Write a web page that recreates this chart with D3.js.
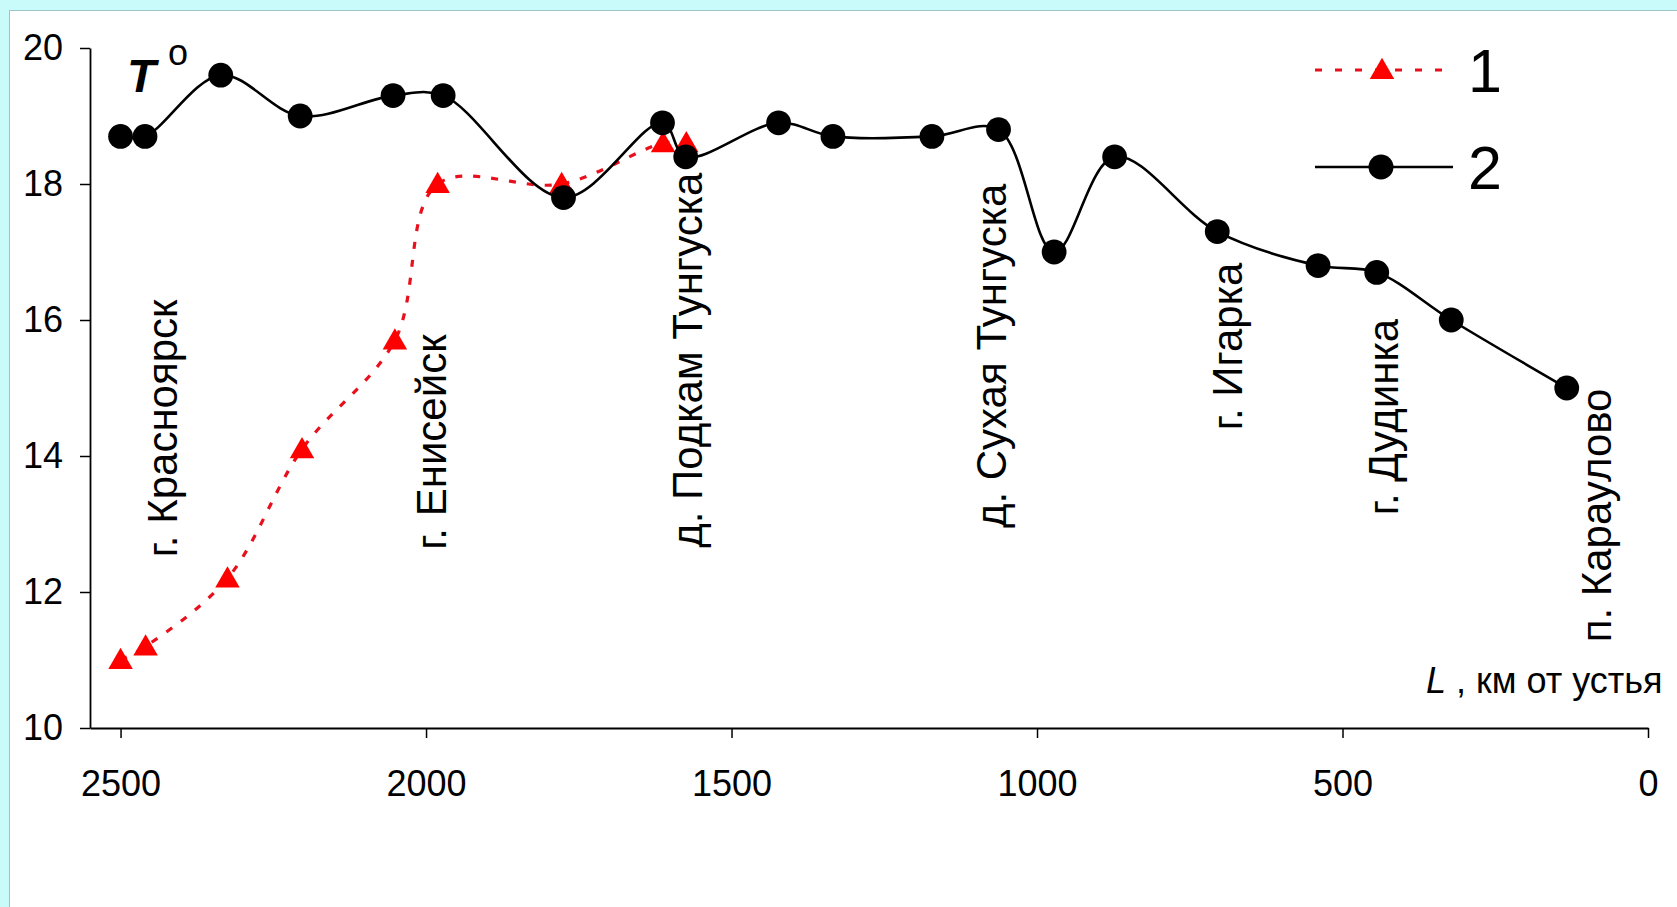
<!DOCTYPE html>
<html>
<head>
<meta charset="utf-8">
<script src="https://cdn.jsdelivr.net/npm/d3@7"></script>
<style>
  html, body { margin: 0; padding: 0; background: #c9fbfb; }
  svg { display: block; }
  text { font-family: "Liberation Sans", Arial, sans-serif; fill: #000; }
</style>
</head>
<body>
<svg id="chart" width="1677" height="907"></svg>
<script>
// Distance from the river mouth, km, and water temperature, °C
const km1   = [2500, 2459, 2325, 2203, 2051, 1981, 1778, 1612, 1574];
const temp1 = [11.0, 11.2, 12.2, 14.1, 15.7, 18.0, 18.0, 18.6, 18.6];

const km2   = [2500, 2460, 2336, 2206, 2054, 1972, 1775, 1613, 1575, 1423,
               1334, 1172, 1063, 972, 873, 705, 540, 444, 322, 133];
const temp2 = [18.7, 18.7, 19.6, 19.0, 19.3, 19.3, 17.8, 18.9, 18.4, 18.9,
               18.7, 18.7, 18.8, 17.0, 18.4, 17.3, 16.8, 16.7, 16.0, 15.0];

const xTicks = [2500, 2000, 1500, 1000, 500, 0];
const yTicks = [10, 12, 14, 16, 18, 20];

const seriesNames = ["1", "2"];

// Settlements along the river (label start in km / °C)
const places  = ["г. Красноярск", "г. Енисейск", "д. Подкам Тунгуска", "д. Сухая Тунгуска",
                 "г. Игарка", "г. Дудинка", "п. Караулово"];
const placeKm = [2408, 1967, 1548, 1051, 664, 409, 61];
const placeT  = [12.51, 12.62, 12.65, 12.94, 14.38, 13.13, 11.26];

const svg = d3.select("#chart");

// white panel
svg.append("rect")
  .attr("x", 9.5).attr("y", 10.5)
  .attr("width", 1700).attr("height", 1000)
  .attr("fill", "#fff").attr("stroke", "#9cc6c6").attr("stroke-width", 1);

const x = d3.scaleLinear().domain([2550, 0]).range([90, 1648]);
const y = d3.scaleLinear().domain([10, 20]).range([728, 48]);

// axes
const xAxis = svg.append("g")
  .attr("transform", `translate(0,${y(10)})`)
  .call(d3.axisBottom(x).tickValues(xTicks).tickFormat(d3.format("d"))
        .tickSize(10).tickSizeOuter(0).tickPadding(32));
const yAxis = svg.append("g")
  .attr("transform", `translate(${x(2550)},0)`)
  .call(d3.axisLeft(y).tickValues(yTicks).tickFormat(d3.format("d"))
        .tickSize(10).tickSizeOuter(0).tickPadding(17));

[xAxis, yAxis].forEach(g => {
  g.selectAll("path.domain").attr("stroke", "#000").attr("stroke-width", 1.8);
  g.selectAll(".tick line").attr("stroke", "#000").attr("stroke-width", 1.5);
  g.selectAll(".tick text")
    .attr("font-size", 36)
    .attr("font-family", "'Liberation Sans', Arial, sans-serif")
    .attr("fill", "#000");
});

const curve = d3.curveCatmullRom.alpha(0.5);

// series 1: red dotted line with triangles
const d1 = km1.map((k, i) => ({ k, t: temp1[i] }));
const line1 = d3.line().x(d => x(d.k)).y(d => y(d.t)).curve(curve);
svg.append("path")
  .datum(d1)
  .attr("d", line1)
  .attr("fill", "none")
  .attr("stroke", "#e8101c")
  .attr("stroke-width", 3.2)
  .attr("stroke-dasharray", "7,11");

const tri = d3.symbol().type(d3.symbolTriangle).size(260);
svg.append("g").selectAll("path")
  .data(d1)
  .join("path")
  .attr("d", tri)
  .attr("transform", d => `translate(${x(d.k)},${y(d.t) + 2})`)
  .attr("fill", "#ff0000");

// series 2: black solid line with circles
const d2 = km2.map((k, i) => ({ k, t: temp2[i] }));
const line2 = d3.line().x(d => x(d.k)).y(d => y(d.t)).curve(curve);
svg.append("path")
  .datum(d2)
  .attr("d", line2)
  .attr("fill", "none")
  .attr("stroke", "#000")
  .attr("stroke-width", 2.6);

svg.append("g").selectAll("circle")
  .data(d2)
  .join("circle")
  .attr("cx", d => x(d.k))
  .attr("cy", d => y(d.t))
  .attr("r", 12.4)
  .attr("fill", "#000");

// settlement labels, written bottom to top
svg.append("g").selectAll("text")
  .data(places)
  .join("text")
  .attr("transform", (d, i) => `translate(${x(placeKm[i])},${y(placeT[i])}) rotate(-90)`)
  .attr("font-size", 42)
  .text(d => d);

// axis titles
const tTitle = svg.append("text")
  .attr("x", 127).attr("y", 92);
tTitle.append("tspan")
  .attr("font-size", 47).attr("font-weight", "bold").attr("font-style", "italic")
  .text("T");
tTitle.append("tspan")
  .attr("x", 168).attr("y", 65)
  .attr("font-size", 36)
  .text("o");

const lTitle = svg.append("text")
  .attr("x", 1426).attr("y", 693)
  .attr("font-size", 36);
lTitle.append("tspan").attr("font-style", "italic").text("L");
lTitle.append("tspan").text(" , км от устья");

// legend
const legend = svg.append("g");
const legendY = [70, 167];
legend.append("line")
  .attr("x1", 1315).attr("x2", 1444)
  .attr("y1", legendY[0]).attr("y2", legendY[0])
  .attr("stroke", "#e8101c").attr("stroke-width", 3.2)
  .attr("stroke-dasharray", "7,13");
legend.append("path")
  .attr("d", tri)
  .attr("transform", `translate(1382,${legendY[0] + 2})`)
  .attr("fill", "#ff0000");
legend.append("line")
  .attr("x1", 1315).attr("x2", 1453)
  .attr("y1", legendY[1]).attr("y2", legendY[1])
  .attr("stroke", "#000").attr("stroke-width", 2.6);
legend.append("circle")
  .attr("cx", 1381).attr("cy", legendY[1]).attr("r", 12.5)
  .attr("fill", "#000");
legend.selectAll("text.lab")
  .data(seriesNames)
  .join("text")
  .attr("class", "lab")
  .attr("x", 1468)
  .attr("y", (d, i) => legendY[i] + 22)
  .attr("font-size", 61)
  .text(d => d);
</script>
</body>
</html>
